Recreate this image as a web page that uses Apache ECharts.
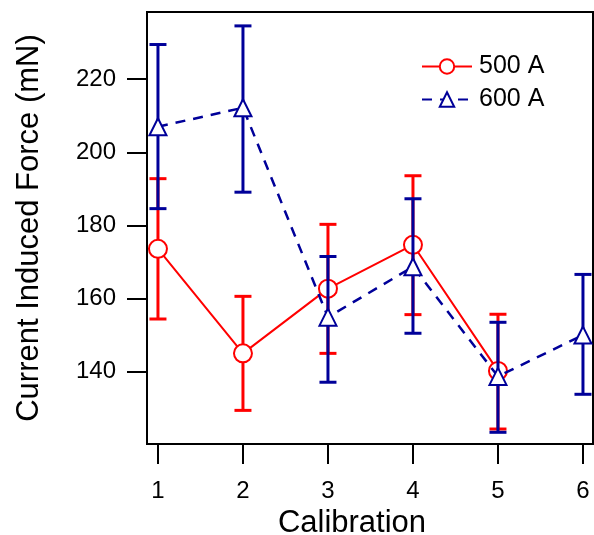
<!DOCTYPE html>
<html><head><meta charset="utf-8">
<script src="https://cdn.jsdelivr.net/npm/echarts@6/dist/echarts.min.js"></script>
<style>html,body{margin:0;padding:0;background:#fff}#c{width:594px;height:535px}</style>
</head><body><div id="c"></div>
<script>
const xTicks = [1, 2, 3, 4, 5, 6];
const yTicks = [140, 160, 180, 200, 220];
const calib500 = [1, 2, 3, 4, 5];
const mean500 = [173.6, 145.0, 162.7, 174.7, 140.2];
const high500 = [192.8, 160.6, 180.3, 193.6, 155.7];
const low500  = [154.4, 129.4, 145.0, 155.6, 124.3];
const calib600 = [1, 2, 3, 4, 5, 6];
const mean600 = [207.0, 212.2, 154.9, 168.7, 138.7, 150.0];
const high600 = [229.5, 234.6, 171.5, 187.3, 153.5, 166.6];
const low600  = [184.6, 189.1, 137.1, 150.5, 123.4, 133.8];

const RED = '#ff0000', BLUE = '#000099';
const FONT = 'Liberation Sans, Arial, Helvetica, sans-serif';

function errItem(color) {
  return function (params, api) {
    const x = api.value(0), lo = api.value(1), hi = api.value(2);
    const p1 = api.coord([x, hi]), p2 = api.coord([x, lo]);
    const w = 8.5;
    const st = { stroke: color, lineWidth: 3 };
    return { type: 'group', children: [
      { type: 'line', shape: { x1: p1[0], y1: p1[1], x2: p2[0], y2: p2[1] }, style: st },
      { type: 'line', shape: { x1: p1[0] - w, y1: p1[1], x2: p1[0] + w, y2: p1[1] }, style: st },
      { type: 'line', shape: { x1: p2[0] - w, y1: p2[1], x2: p2[0] + w, y2: p2[1] }, style: st }
    ]};
  };
}

const chart = echarts.init(document.getElementById('c'), null, { renderer: 'canvas' });
chart.setOption({
  animation: false,
  backgroundColor: '#fff',
  textStyle: { fontFamily: FONT },
  grid: { left: 147, right: 1, top: 12, bottom: 91, show: true, borderColor: '#000', borderWidth: 2,
          containLabel: false, outerBoundsMode: 'none' },
  legend: {
    left: 416, top: 49, orient: 'vertical', itemGap: 8, itemWidth: 50, itemHeight: 18,
    textStyle: { fontSize: 25, color: '#000', fontFamily: FONT, padding: [0, 0, 0, 2] },
    data: ['500 A', '600 A']
  },
  xAxis: {
    type: 'value', min: 0.871, max: 6.118,
    name: 'Calibration', nameLocation: 'middle', nameGap: 58,
    nameTextStyle: { fontSize: 31, color: '#000', fontFamily: FONT, padding: [0, 36, 0, 0] },
    axisLine: { show: true, lineStyle: { color: '#000', width: 2 } },
    axisTick: { show: true, length: 20, lineStyle: { color: '#000', width: 2 }, customValues: xTicks },
    axisLabel: { fontSize: 24, color: '#000', margin: 35, customValues: xTicks, fontFamily: FONT },
    splitLine: { show: false }
  },
  yAxis: {
    type: 'value', min: 120.2, max: 238.4,
    name: 'Current Induced Force (mN)', nameLocation: 'middle', nameGap: 102,
    nameTextStyle: { fontSize: 31, color: '#000', fontFamily: FONT },
    axisLine: { show: true, lineStyle: { color: '#000', width: 2 } },
    axisTick: { show: true, length: 20, lineStyle: { color: '#000', width: 2 }, customValues: yTicks },
    axisLabel: { fontSize: 24, color: '#000', margin: 31, customValues: yTicks, fontFamily: FONT },
    splitLine: { show: false }
  },
  series: [
    { type: 'custom', name: '500 A err', renderItem: errItem(RED), z: 3,
      data: calib500.map((c, i) => [c, low500[i], high500[i]]), encode: { x: 0, y: [1, 2] } },
    { type: 'line', name: '500 A', data: calib500.map((c, i) => [c, mean500[i]]),
      symbol: 'emptyCircle', symbolSize: 18, color: RED, z: 4,
      lineStyle: { color: RED, width: 2 }, itemStyle: { color: RED, borderColor: RED, borderWidth: 1.3 } },
    { type: 'custom', name: '600 A err', renderItem: errItem(BLUE), z: 5,
      data: calib600.map((c, i) => [c, low600[i], high600[i]]), encode: { x: 0, y: [1, 2] } },
    { type: 'line', name: '600 A', data: calib600.map((c, i) => [c, mean600[i]]),
      symbol: 'emptyTriangle', symbolSize: 17, color: BLUE, z: 6,
      lineStyle: { color: BLUE, width: 2.5, type: [10, 8] }, itemStyle: { color: BLUE, borderColor: BLUE, borderWidth: 1.3 } }
  ]
});
</script></body></html>
